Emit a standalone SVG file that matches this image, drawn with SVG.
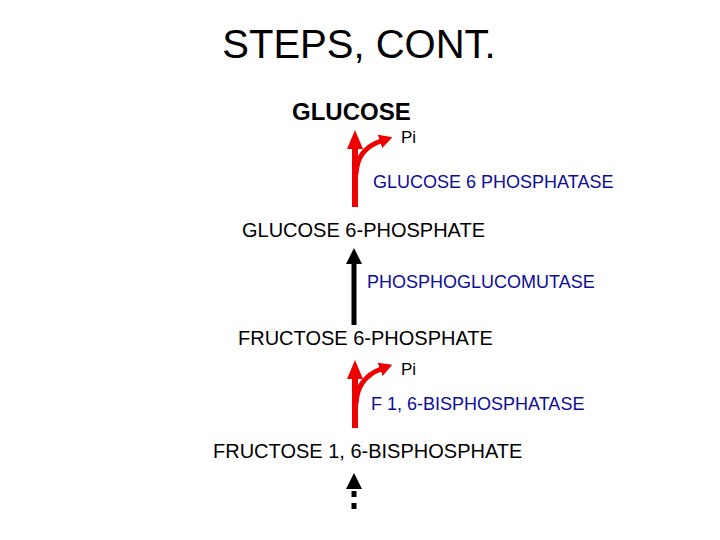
<svg xmlns="http://www.w3.org/2000/svg" width="720" height="540" viewBox="0 0 720 540">
<style>
text{font-family:"Liberation Sans",Arial,sans-serif;fill:#000}
.title{font-size:40px}
.bold{font-size:24px;font-weight:bold}
.cmp{font-size:20px}
.enz{font-size:18px;fill:#0d0d99}
.pi{font-size:17px}
.red{stroke:#ee0000;fill:none}
</style>
<defs>
<marker id="redHead" markerUnits="userSpaceOnUse" viewBox="0 0 19 16" markerWidth="19" markerHeight="16" refX="1" refY="8" orient="auto"><path d="M0,0 L19,8 L0,16 z" fill="#ee0000"/></marker>
<marker id="redSmall" markerUnits="userSpaceOnUse" viewBox="0 0 13 14" markerWidth="13" markerHeight="14" refX="1" refY="7" orient="auto"><path d="M0,0 L13,7 L0,14 z" fill="#ee0000"/></marker>
<marker id="blackHead" markerUnits="userSpaceOnUse" viewBox="0 0 16 16" markerWidth="16" markerHeight="16" refX="1" refY="8" orient="auto"><path d="M0,0 L16,8 L0,16 z" fill="#000"/></marker>
</defs>
<text class="title" x="359" y="58" text-anchor="middle">STEPS, CONT.</text>
<g id="glucose"><text class="bold" x="292" y="120">GLUCOSE</text></g>
<g id="pi1"><text class="pi" x="401" y="143">Pi</text></g>
<g id="g6pase"><text class="enz" x="373" y="188">GLUCOSE 6 PHOSPHATASE</text></g>
<g id="g6p"><text class="cmp" x="242" y="237">GLUCOSE 6-PHOSPHATE</text></g>
<g id="pgm"><text class="enz" x="367" y="288">PHOSPHOGLUCOMUTASE</text></g>
<g id="f6p"><text class="cmp" x="238" y="345">FRUCTOSE 6-PHOSPHATE</text></g>
<g id="pi2"><text class="pi" x="401" y="375">Pi</text></g>
<g id="f16bpase"><text class="enz" x="371" y="410">F 1, 6-BISPHOSPHATASE</text></g>
<g id="f16bp"><text class="cmp" x="213" y="458">FRUCTOSE 1, 6-BISPHOSPHATE</text></g>
<g id="connectors">
<line class="red" x1="355" y1="207" x2="355" y2="148" stroke-width="6" marker-end="url(#redHead)"/>
<path class="red" d="M356,174 Q357,149 381,141" stroke-width="5" marker-end="url(#redSmall)"/>
<line x1="354" y1="325" x2="354" y2="263" stroke="#000" stroke-width="5" marker-end="url(#blackHead)"/>
<line class="red" x1="355" y1="428" x2="355" y2="378" stroke-width="6" marker-end="url(#redHead)"/>
<path class="red" d="M356,404 Q357,378 381,369" stroke-width="5" marker-end="url(#redSmall)"/>
<line x1="354" y1="491" x2="354" y2="509" stroke="#000" stroke-width="5" stroke-dasharray="6,6"/>
<path d="M346,489 L354,473 L362,489 z" fill="#000"/>
</g>
</svg>
